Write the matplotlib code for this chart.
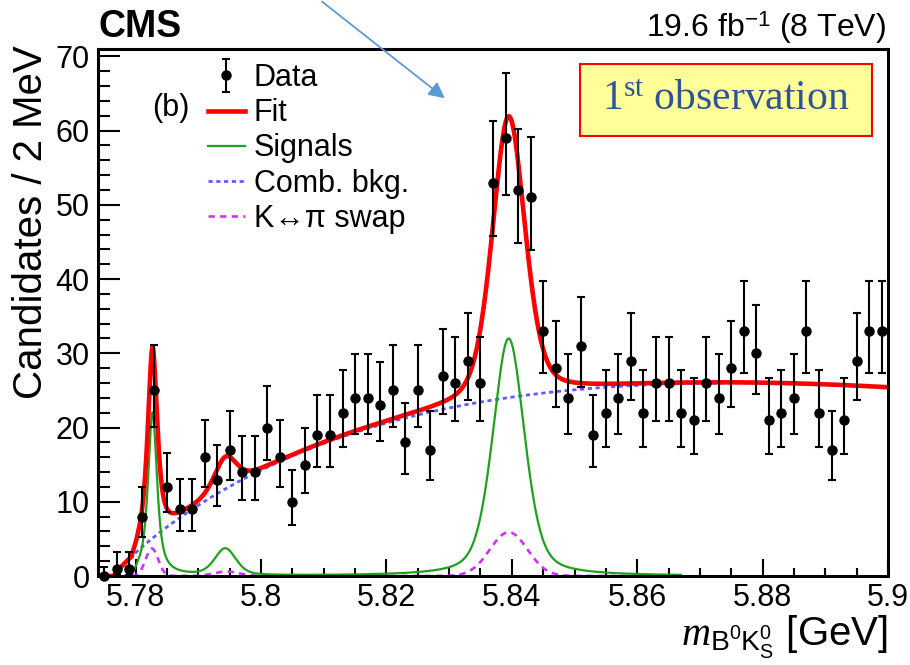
import math
import numpy as np
import matplotlib
matplotlib.use("Agg")
import matplotlib.pyplot as plt
from matplotlib.patches import Rectangle, FancyArrowPatch
from matplotlib.lines import Line2D
from matplotlib.ticker import FixedLocator, FixedFormatter, MultipleLocator
from matplotlib.legend_handler import HandlerErrorbar

plt.rcParams['font.family'] = ['Liberation Sans', 'DejaVu Sans']
plt.rcParams['mathtext.fontset'] = 'custom'
plt.rcParams['mathtext.rm'] = 'Liberation Sans'
plt.rcParams['mathtext.it'] = 'Liberation Serif:italic'
plt.rcParams['mathtext.sf'] = 'Liberation Serif'
plt.rcParams['mathtext.bf'] = 'Liberation Sans:bold'

# ---------------- data ----------------
bin_low = 5.774
bin_width = 0.002
counts = [0, 1, 1, 8, 25, 12, 9, 9, 16, 13, 17, 14, 14, 20, 16, 10, 15, 19, 19, 22,
          24, 24, 23, 25, 18, 25, 17, 27, 26, 29, 26, 53, 59, 52, 51, 33, 28, 24, 31,
          19, 22, 24, 29, 22, 26, 26, 22, 21, 26, 24, 28, 33, 30, 21, 22, 24, 33, 22,
          17, 21, 29, 33, 33]

x_ticks = [5.78, 5.80, 5.82, 5.84, 5.86, 5.88, 5.90]
x_tick_labels = ['5.78', '5.8', '5.82', '5.84', '5.86', '5.88', '5.9']
y_ticks = [0, 10, 20, 30, 40, 50, 60, 70]
y_tick_labels = ['0', '10', '20', '30', '40', '50', '60', '70']

# fit components (parameters)
sig_mean = [5.7827, 5.7943, 5.8395]
sig_peak = [22.0, 3.6, 32.0]
sig_fwhm = [0.0017, 0.0040, 0.0060]
sig_lorentz_frac = [0.8, 0.4, 0.4]
swap_mean = [5.7826, 5.7945, 5.8395]
swap_peak = [3.7, 0.6, 5.9]
swap_sigma = [0.0010, 0.0020, 0.0030]
sig_threshold = 5.7794
comp_end = 5.867
bkg_threshold = 5.7765
bkg_power = 0.889
bkg_max_pos = 5.8755
bkg_max_val = 26.0

legend_labels = ['Data', 'Fit', 'Signals', 'Comb. bkg.', 'K\u2194\u03c0 swap']

# ---------------- helpers ----------------
def poisson_cdf(n, mu):
    if n < 0:
        return 0.0
    s = 0.0
    for k in range(n + 1):
        s += math.exp(k * math.log(mu) - mu - math.lgamma(k + 1))
    return s

def garwood(n, a=(1 - 0.682689) / 2):
    if n == 0:
        return 0.0, 1.147
    lo, hi = float(n), n + 10 * math.sqrt(n + 1) + 10
    for _ in range(80):
        mid = 0.5 * (lo + hi)
        if poisson_cdf(n, mid) > a:
            lo = mid
        else:
            hi = mid
    up = 0.5 * (lo + hi)
    lo, hi = 1e-9, float(n)
    for _ in range(80):
        mid = 0.5 * (lo + hi)
        if 1 - poisson_cdf(n - 1, mid) < a:
            lo = mid
        else:
            hi = mid
    low = 0.5 * (lo + hi)
    return n - low, up - n

def pseudo_voigt(x, m, h, fwhm, eta):
    z2 = (x - m) ** 2 / fwhm ** 2
    return h * ((1 - eta) * np.exp(-4 * np.log(2) * z2) + eta / (1 + 4 * z2))

def gauss(x, m, h, s):
    return h * np.exp(-0.5 * ((x - m) / s) ** 2)

# ---------------- compute curves ----------------
centers = bin_low + bin_width * (np.arange(len(counts)) + 0.5)
errs = np.array([garwood(n) for n in counts]).T

xg = np.linspace(5.774, 5.9, 3000)
thr = np.sqrt(np.clip((xg - sig_threshold) / 0.001, 0, 1))
sig = sum(pseudo_voigt(xg, m, h, w, e) for m, h, w, e in
          zip(sig_mean, sig_peak, sig_fwhm, sig_lorentz_frac)) * thr
swap = sum(gauss(xg, m, h, s) for m, h, s in zip(swap_mean, swap_peak, swap_sigma)) * thr
d = np.clip(xg - bkg_threshold, 0, None)
dm = bkg_max_pos - bkg_threshold
bkg = bkg_max_val * (d / dm) ** bkg_power * np.exp(-bkg_power * (d - dm) / dm)
fit = bkg + sig + swap
comp_mask = (xg >= sig_threshold) & (xg <= comp_end)

# ---------------- figure ----------------
W, H = 910, 665
fig = plt.figure(figsize=(W / 100, H / 100), dpi=100)
L, R, T, B = 98, 888, 49, 576
ax = fig.add_axes([L / W, 1 - B / H, (R - L) / W, (B - T) / H])

c_red = '#ff0000'
c_green = '#1fa01f'
c_blue = '#5c5cff'
c_mag = '#cc33ff'
bkg_ls = (0, (1.5, 1.3))
swap_ls = (0, (2.4, 2.0))

ax.plot(xg[d > 0], bkg[d > 0], color=c_blue, lw=2.0, ls=bkg_ls, zorder=2)
ax.plot(xg[comp_mask], swap[comp_mask], color=c_mag, lw=1.9, ls=swap_ls, zorder=2.1)
ax.plot(xg[comp_mask], sig[comp_mask], color=c_green, lw=1.6, zorder=2.2)
ax.plot(xg, fit, color=c_red, lw=3.3, zorder=2.3, solid_capstyle='round')
eb = ax.errorbar(centers, counts, yerr=errs, fmt='o', color='black', ms=6.5,
                 elinewidth=1.5, capsize=2.6, capthick=1.5, zorder=3, clip_on=False)

ax.set_xlim(5.774, 5.9)
ax.set_ylim(0, 71)
ax.xaxis.set_major_locator(FixedLocator(x_ticks))
ax.xaxis.set_major_formatter(FixedFormatter(x_tick_labels))
ax.xaxis.set_minor_locator(MultipleLocator(0.005))
ax.yaxis.set_major_locator(FixedLocator(y_ticks))
ax.yaxis.set_major_formatter(FixedFormatter(y_tick_labels))
ax.yaxis.set_minor_locator(MultipleLocator(2))
ax.tick_params(which='both', direction='in', top=False, right=False, width=1.5, color='black')
ax.tick_params(axis='x', which='major', length=12.5, labelsize=22, pad=5)
ax.tick_params(axis='x', which='minor', length=6)
ax.tick_params(axis='y', which='major', length=16, labelsize=22, pad=6)
ax.tick_params(axis='y', which='minor', length=8.5)
for sp in ax.spines.values():
    sp.set_linewidth(2.2)
    sp.set_zorder(2.5)

# axis titles
fig.text(31 / W, 1 - 45 / H, 'Candidates / 2 MeV', rotation=90, ha='center', va='top', fontsize=29)
fig.text(R / W, 1 - 646 / H, r'$\mathit{m}_{\mathrm{B^0K^0_S}}$ [GeV]', ha='right', va='baseline', fontsize=29)

# header
fig.text(L / W, 1 - 37 / H, 'CMS', fontweight='bold', fontsize=27, ha='left', va='baseline')
fig.text(886 / W, 1 - 37 / H, r'19.6 fb$^{\mathrm{-1}}$ (8 TeV)', fontsize=23, ha='right', va='baseline')

# legend
h_fit = Line2D([], [], color=c_red, lw=3.3)
h_sig = Line2D([], [], color=c_green, lw=1.6)
h_bkg = Line2D([], [], color=c_blue, lw=2.0, ls=bkg_ls)
h_swap = Line2D([], [], color=c_mag, lw=1.9, ls=swap_ls)
leg = ax.legend([eb, h_fit, h_sig, h_bkg, h_swap], legend_labels, loc='upper left',
                bbox_to_anchor=((208 - L) / (R - L), (B - 63) / (B - T)), frameon=False,
                fontsize=22, handlelength=1.2, handletextpad=0.3, labelspacing=0.17,
                borderpad=0, borderaxespad=0,
                handler_map={type(eb): HandlerErrorbar(xerr_size=0, yerr_size=0.55)})
ax.text((171 - L) / (R - L), (B - 108) / (B - T), '(b)', transform=ax.transAxes,
        fontsize=22, ha='center', va='center')

# annotation box
fig.add_artist(Rectangle((580 / W, 1 - 136 / H), 292 / W, 72 / H, transform=fig.transFigure,
                         facecolor='#ffff99', edgecolor='#ff0000', lw=1.5, zorder=5))
fig.text(726 / W, 1 - 100 / H, r'1$^{\mathsf{st}}$ observation', family='Liberation Serif',
         fontsize=30, color='#2f5496', ha='center', va='center', zorder=6)

# arrow
fig.add_artist(FancyArrowPatch((320 / W, 1.0), (447 / W, 1 - 100 / H), transform=fig.transFigure,
                               arrowstyle='-|>', mutation_scale=24, color='#5b9bd5', lw=1.3, zorder=6))

fig.savefig('out.png', dpi=100)
